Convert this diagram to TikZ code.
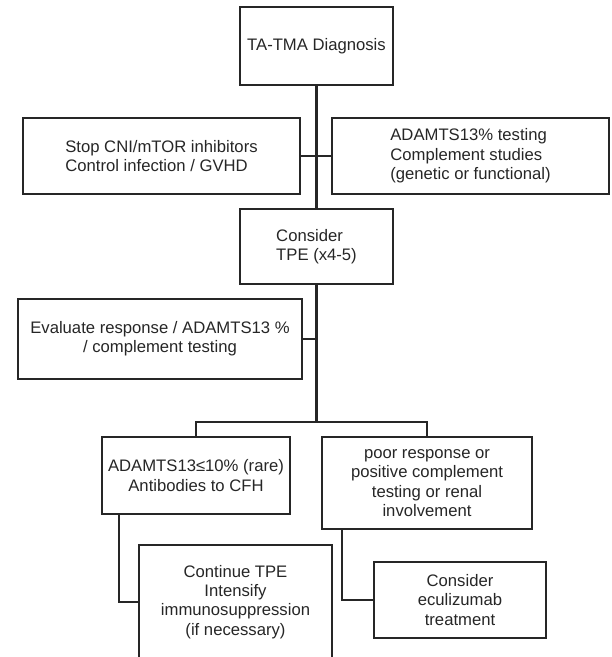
\documentclass[tikz,border=0pt]{standalone}
\usepackage{fontspec}
\setmainfont{Liberation Sans}
\usepackage{tikz}
\usetikzlibrary{positioning}
\definecolor{ink}{HTML}{262626}

\tikzset{
  box/.style={draw=ink,line width=1.6pt,inner sep=2pt,text=ink,
    font=\fontsize{12.5}{14.5}\selectfont},
  link/.style={draw=ink,line width=1.6pt}
}

\begin{document}
\begin{tikzpicture}[x=0.75pt,y=-0.75pt]
\useasboundingbox (0,0) rectangle (611,657);
% boxes
\node[box,minimum width=115pt,minimum height=58pt] (diag) at (316.5,46) {TA-TMA Diagnosis};
\node[box,minimum width=208pt,minimum height=57pt,align=left] (stop) at (161.5,156)
  {Stop CNI/mTOR inhibitors\\Control infection / GVHD};
\node[box,minimum width=208pt,minimum height=57pt,align=left] (adam) at (470.5,156)
  {ADAMTS13\% testing\\Complement studies\\(genetic or functional)};
\node[box,minimum width=115pt,minimum height=56pt,align=left] (tpe) at (316.5,246.5)
  {Consider\\TPE (x4-5)};
\node[box,minimum width=213pt,minimum height=60pt,align=center] (eval) at (160,339)
  {Evaluate response / ADAMTS13 \%\\/ complement testing};
\node[box,minimum width=141pt,minimum height=58pt,align=center] (low) at (196,475.5)
  {ADAMTS13≤10\% (rare)\\Antibodies to CFH};
\node[box,minimum width=158pt,minimum height=69pt,align=center] (poor) at (427,483)
  {poor response or\\positive complement\\testing or renal\\involvement};
\node[box,minimum width=145pt,minimum height=86pt,align=center] (cont) at (235.5,602)
  {Continue TPE\\Intensify\\immunosuppression\\(if necessary)};
\node[box,minimum width=129pt,minimum height=57pt,align=center] (ecul) at (460,600)
  {Consider\\eculizumab\\treatment};
\coordinate (fork) at (316.5,422);
% connectors
\draw[link] (diag) -- (tpe);
\draw[link] (stop) -- (adam);
\draw[link] (tpe) -- (fork);
\draw[link] (eval) -- (eval -| fork);
\draw[link] (low) |- (fork) -| (poor);
\draw[link] ([xshift=13.5pt]low.south west) |- (cont);
\draw[link] ([xshift=15.75pt]poor.south west) |- (ecul);
\end{tikzpicture}
\end{document}
